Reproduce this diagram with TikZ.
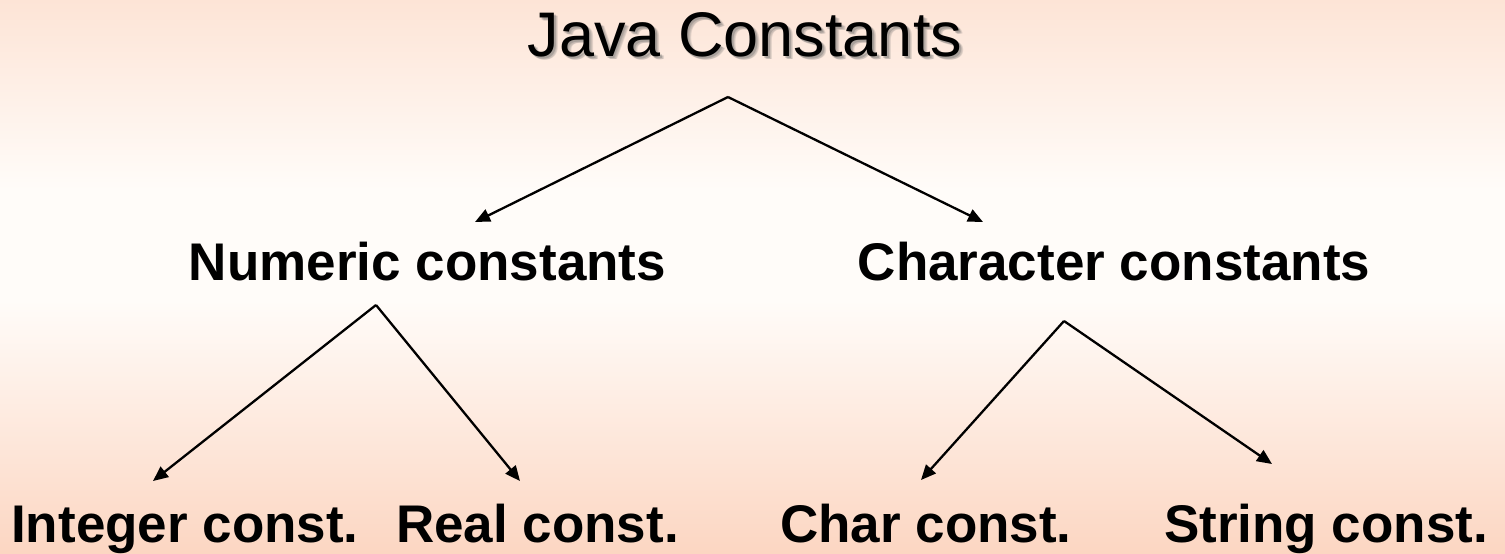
\documentclass[tikz,border=0pt]{standalone}
\usepackage{fontspec}
\setmainfont{Liberation Sans}
\usetikzlibrary{arrows.meta}
\definecolor{peachtop}{HTML}{FDE4D6}
\definecolor{peachbot}{HTML}{FCD6C2}
\definecolor{midwhite}{HTML}{FFFCF9}
\tikzset{
  lbl/.style={anchor=base,inner sep=0pt,font=\fontsize{26.5pt}{30pt}\selectfont\bfseries},
  ttl/.style={anchor=base,inner sep=0pt,font=\fontsize{31.5pt}{36pt}\selectfont},
  shd/.style={ttl,text=black!60,opacity=0.18},
  conn/.style={line width=1.15pt,-{Triangle[length=7.5pt,width=6.5pt]}}
}
\begin{document}
\begin{tikzpicture}[x=0.5pt,y=-0.5pt]
\useasboundingbox (0,0) rectangle (1505,553);
% background
\fill[top color=peachtop,bottom color=midwhite] (0,0) rectangle (1505,190);
\fill[midwhite] (0,189) rectangle (1505,301);
\fill[top color=midwhite,bottom color=peachbot] (0,300) rectangle (1505,553);
% title with soft shadow
\node[shd] (sh1) at (747,58) {Java Constants};
\node[shd] (sh2) at (748,59) {Java Constants};
\node[shd] (sh3) at (749,59.5) {Java Constants};
\node[shd] (sh4) at (746.5,58.5) {Java Constants};
\node[ttl] (title) at (745,56) {Java Constants};
% level 2
\node[lbl] (num) at (427.5,280) {Numeric constants};
\node[lbl] (chr) at (1114,280) {Character constants};
% level 3
\node[lbl] (int) at (185,542.5) {Integer const.};
\node[lbl] (real) at (537.5,542.5) {Real const.};
\node[lbl] (char) at (926,542.5) {Char const.};
\node[lbl] (str) at (1326,542.5) {String const.};
% connector ends
\coordinate (tA) at (728,97);
\coordinate (tL) at (475,222);
\coordinate (tR) at (983,222);
\coordinate (nA) at (376,305);
\coordinate (nL) at (153,481);
\coordinate (nR) at (520,481);
\coordinate (cA) at (1064,321);
\coordinate (cL) at (921,480);
\coordinate (cR) at (1272,464);
\draw[conn] (tA) -- (tL);
\draw[conn] (tA) -- (tR);
\draw[conn] (nA) -- (nL);
\draw[conn] (nA) -- (nR);
\draw[conn] (cA) -- (cL);
\draw[conn] (cA) -- (cR);
\end{tikzpicture}
\end{document}
